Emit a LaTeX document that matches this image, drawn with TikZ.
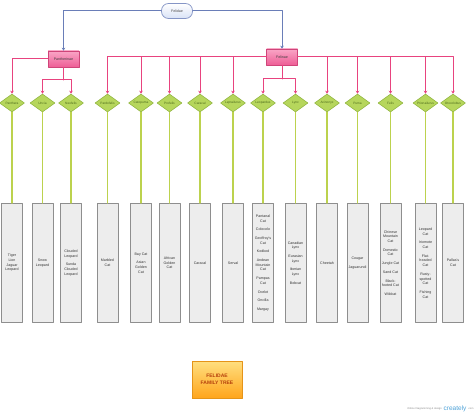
\documentclass[tikz,border=0pt]{standalone}
\usepackage{fontspec}
\setmainfont{Liberation Sans}
\usetikzlibrary{arrows.meta,shapes.geometric,positioning}
\definecolor{LinkBlue}{HTML}{6A7EB8}
\definecolor{RootEdge}{HTML}{8595C6}
\definecolor{RootFill}{HTML}{D9E2F6}
\definecolor{PinkLine}{HTML}{E8437F}
\definecolor{PinkTop}{HTML}{F9A6C6}
\definecolor{PinkBot}{HTML}{EE5E96}
\definecolor{PinkEdge}{HTML}{CF4579}
\definecolor{LeafGreen}{HTML}{B6D65C}
\definecolor{LeafEdge}{HTML}{8CB23A}
\definecolor{LeafText}{HTML}{4C6A1C}
\definecolor{StemGreen}{HTML}{BCD24E}
\definecolor{BoxGray}{HTML}{EDEDED}
\definecolor{BoxEdge}{HTML}{8E8E8E}
\definecolor{TitleTop}{HTML}{FFDF80}
\definecolor{TitleBot}{HTML}{FFA51C}
\definecolor{TitleText}{HTML}{B5400C}
\definecolor{BrandBlue}{HTML}{4FA3D9}

\begin{document}
\begin{tikzpicture}[
  x=1pt, y=-1pt,
  line cap=round, line join=round,
  >=Stealth,
  rootnode/.style={draw=RootEdge, line width=0.7pt, rounded corners=7pt,
    top color=white, bottom color=RootFill, minimum width=31pt, minimum height=15pt,
    inner sep=0pt, font=\fontsize{3.6}{4}\selectfont, text=black!70},
  subfamily/.style={draw=PinkEdge, line width=0.6pt, top color=PinkTop, bottom color=PinkBot,
    minimum width=31pt, minimum height=16pt, inner sep=0pt,
    font=\fontsize{3.6}{4}\selectfont, text=black!75},
  genus/.style={diamond, aspect=1.35, draw=LeafEdge, fill=LeafGreen, line width=0.5pt,
    minimum width=25pt, minimum height=18pt, inner sep=0pt,
    font=\fontsize{3.2}{3.6}\selectfont, text=LeafText},
  species/.style={draw=BoxEdge, fill=BoxGray, line width=0.8pt,
    minimum width=21pt, minimum height=119pt, inner sep=0pt, align=center,
    font=\fontsize{3.6}{4.7}\selectfont, text=black!80},
  blueline/.style={LinkBlue, line width=1pt},
  pinkline/.style={PinkLine, line width=1pt},
  tip/.style={-{Stealth[length=3pt,width=3.5pt]}},
  stem/.style={StemGreen, line width=1.1pt}
]

\useasboundingbox (0,0) rectangle (474,414);
\fill[white] (0,0) rectangle (474,414);

% Root and subfamilies
\node[rootnode] (felidae) at (177,11) {Felidae};
\node[subfamily] (pantherinae) at (63.5,59) {Pantherinae};
\node[subfamily] (felinae) at (282,57) {Felinae};

\draw[blueline, tip] (felidae.west) -| (pantherinae.north);
\draw[blueline, tip] (felidae.east) -| (felinae.north);

% Genera and species columns
\foreach \n/\x/\g/\t in {
  1/12/Panthera/{Tiger\\Lion\\Jaguar\\Leopard},
  2/42.5/Uncia/{Snow\\Leopard},
  3/71/Neofelis/{Clouded\\Leopard\\[4pt]Sunda\\Clouded\\Leopard},
  4/107.5/Pardofelis/{Marbled\\Cat},
  5/141/Catopuma/{Bay Cat\\[4pt]Asian\\Golden\\Cat},
  6/169.5/Profelis/{African\\Golden\\Cat},
  7/200/Caracal/{Caracal},
  8/233/Leptailurus/{Serval},
  9/263/Leopardus/{Pantanal\\Cat\\[4pt]Colocolo\\[4pt]Geoffroy's\\Cat\\[4pt]Kodkod\\[4pt]Andean\\Mountain\\Cat\\[4pt]Pampas\\Cat\\[4pt]Ocelot\\[4pt]Oncilla\\[4pt]Margay},
  10/295.5/Lynx/{Canadian\\Lynx\\[4pt]Eurasian\\Lynx\\[4pt]Iberian\\Lynx\\[4pt]Bobcat},
  11/327/Acinonyx/{Cheetah},
  12/357.5/Puma/{Cougar\\[4pt]Jaguarundi},
  13/390.5/Felis/{Chinese\\Mountain\\Cat\\[4pt]Domestic\\Cat\\[4pt]Jungle Cat\\[4pt]Sand Cat\\[4pt]Black-\\footed Cat\\[4pt]Wildcat},
  14/425.5/Prionailurus/{Leopard\\Cat\\[4pt]Iriomote\\Cat\\[4pt]Flat-\\headed\\Cat\\[4pt]Rusty-\\spotted\\Cat\\[4pt]Fishing\\Cat},
  15/453/Otocolobus/{Pallas's\\Cat}%
}{
  \node[genus] (d\n) at (\x,103) {\g};
  \node[species] (b\n) at (\x,263) {\t};
  \draw[stem] (d\n.south) -- (b\n.north);
}

% Pantherinae branches
\coordinate (pj) at (63.5,80);
\draw[pinkline, tip] (pantherinae.west) -| (d1.north);
\draw[pinkline] (pantherinae.south) -- (pj);
\foreach \n in {2,3} {
  \draw[pinkline, tip] (pj) -| (d\n.north);
}

% Felinae branches
\coordinate (fj) at (282,79);
\foreach \n in {4,...,8} {
  \draw[pinkline, tip] (felinae.west) -| (d\n.north);
}
\foreach \n in {11,...,15} {
  \draw[pinkline, tip] (felinae.east) -| (d\n.north);
}
\draw[pinkline] (felinae.south) -- (fj);
\foreach \n in {9,10} {
  \draw[pinkline, tip] (fj) -| (d\n.north);
}

% Title
\node[draw=TitleBot!90!black, line width=0.5pt, top color=TitleTop, bottom color=TitleBot,
  minimum width=50pt, minimum height=37pt, align=center, text=TitleText,
  font=\bfseries\fontsize{5}{6.5}\selectfont] (title) at (217,379.5) {FELIDAE\\FAMILY TREE};

% Watermark
\node[font=\fontsize{2.6}{3}\selectfont, text=black!45, anchor=east, inner sep=0pt] (tagline) at (442,409) {Online Diagramming \& design};
\node[font=\fontsize{6.5}{7}\selectfont, text=BrandBlue, right=1.5pt of tagline, inner sep=0pt] (brand) {creately};
\node[font=\fontsize{2.6}{3}\selectfont, text=black!45, right=1pt of brand, inner sep=0pt] (dotcom) {.com};

\end{tikzpicture}
\end{document}
